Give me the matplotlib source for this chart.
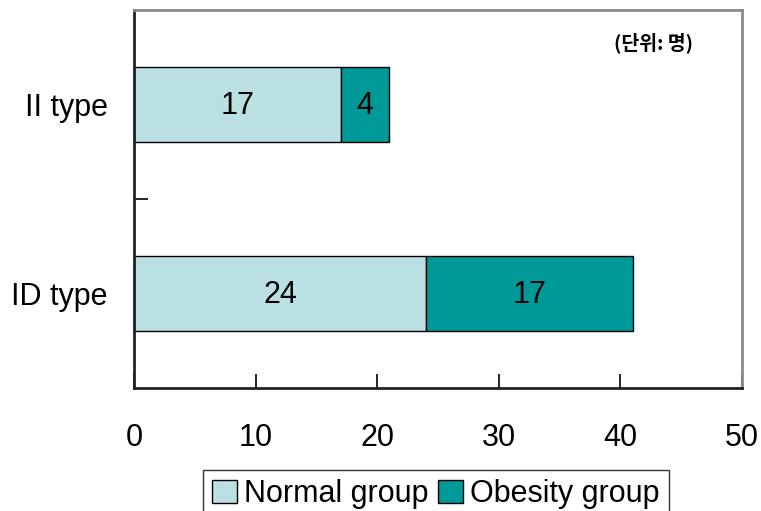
import matplotlib.pyplot as plt
import numpy as np

plt.rcParams['font.family'] = ['Liberation Sans', 'Noto Sans CJK KR', 'DejaVu Sans']

# 데이터
types = ['ID type', 'II type']
normal = [24, 17]
obesity = [17, 4]
series_names = ['Normal group', 'Obesity group']
colors = ['#BBE0E3', '#009999']

fig = plt.figure(figsize=(7.61, 5.11), dpi=100)
ax = fig.add_axes([0.1761, 0.2407, 0.799, 0.7397])

y = np.arange(len(types))
h = 0.4
b1 = ax.barh(y, normal, height=h, color=colors[0], edgecolor='black', linewidth=1, label=series_names[0])
b2 = ax.barh(y, obesity, height=h, left=normal, color=colors[1], edgecolor='black', linewidth=1, label=series_names[1])

# 막대 안의 값 표시
for bars, lefts in [(b1, [0, 0]), (b2, normal)]:
    for bar, left in zip(bars, lefts):
        w = bar.get_width()
        ax.text(left + w / 2, bar.get_y() + bar.get_height() / 2 - 0.01, f'{w:.0f}',
                ha='center', va='center', fontsize=22)

ax.set_xlim(0, 50)
ax.set_ylim(-0.5, 1.5)
ax.set_xticks(range(0, 51, 10))
ax.set_yticks(y)
ax.set_yticklabels(types)
ax.set_yticks([0.5], minor=True)
ax.tick_params(axis='x', direction='in', length=10, width=1.2, pad=25, labelsize=22)
ax.tick_params(axis='y', which='major', length=0, pad=19, labelsize=22)
ax.tick_params(axis='y', which='minor', direction='in', length=10, width=1.2)

for side in ['left', 'bottom']:
    ax.spines[side].set_linewidth(2)
    ax.spines[side].set_color('#222222')
for side in ['top', 'right']:
    ax.spines[side].set_linewidth(2)
    ax.spines[side].set_color('#8a8a8a')

ax.text(0.854, 0.913, '(단위: 명)', transform=ax.transAxes, ha='center', va='center',
        fontsize=14, fontweight='bold', family=['Noto Sans CJK KR', 'DejaVu Sans'])

leg = fig.legend(loc='upper center', bbox_to_anchor=(0.573, 0.0802), ncol=2,
                 fontsize=22, frameon=True, fancybox=False, edgecolor='black',
                 handlelength=0.8, handleheight=0.8, handletextpad=0.25,
                 columnspacing=0.3, borderpad=0.3, borderaxespad=0)
leg.get_frame().set_linewidth(1)

fig.savefig('out.png', dpi=100)
